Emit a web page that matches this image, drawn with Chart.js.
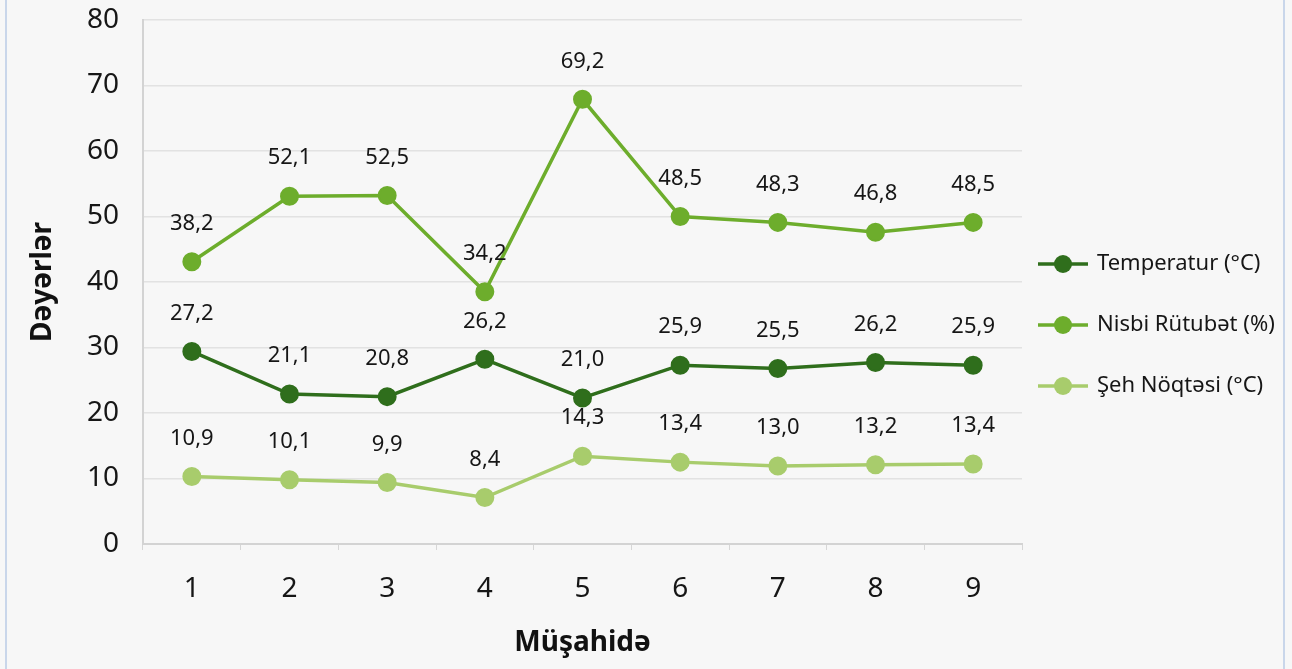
<!DOCTYPE html>
<html>
<head>
<meta charset="utf-8">
<script src="https://cdn.jsdelivr.net/npm/chart.js@4.4.1/dist/chart.umd.min.js"></script>
<style>
  html, body { margin: 0; padding: 0; background: #f7f7f7; }
  #wrap { position: relative; width: 1292px; height: 669px; }
  #frame { position: absolute; left: 5px; top: 0; width: 1280px; height: 669px;
           border-left: 2px solid #c9d6ea; border-right: 2px solid #c9d6ea; box-sizing: border-box; pointer-events: none; }
</style>
</head>
<body>
<div id="wrap">
  <canvas id="chart"></canvas>
  <div id="frame"></div>
</div>
<script>
// müşahidələr
const observations = ['1', '2', '3', '4', '5', '6', '7', '8', '9'];

// nöqtələrin şəkildəki mövqeləri
const temperatureValues = [29.4, 22.9, 22.5, 28.2, 22.3, 27.3, 26.8, 27.7, 27.3];
const humidityValues = [43.1, 53.1, 53.2, 38.5, 67.9, 50.0, 49.1, 47.6, 49.1];
const dewPointValues = [10.3, 9.8, 9.4, 7.1, 13.4, 12.5, 11.9, 12.1, 12.2];

// nöqtələrin üstündəki yazılar
const temperatureLabels = ['27,2', '21,1', '20,8', '26,2', '21,0', '25,9', '25,5', '26,2', '25,9'];
const humidityLabels = ['38,2', '52,1', '52,5', '34,2', '69,2', '48,5', '48,3', '46,8', '48,5'];
const dewPointLabels = ['10,9', '10,1', '9,9', '8,4', '14,3', '13,4', '13,0', '13,2', '13,4'];

const seriesNames = ['Temperatur (°C)', 'Nisbi Rütubət (%)', 'Şeh Nöqtəsi (°C)'];
const seriesColors = ['#2f6e1c', '#6dad2c', '#a8cc6c'];

const Y_MIN = 0;
const Y_MAX = 80;
const Y_STEP = 10;

const FONT = '"Noto Sans", "Open Sans", sans-serif';
const TEXT = '#161616';

function makeDataset(i, values, texts) {
    return {
        label: seriesNames[i],
        data: values,
        valueTexts: texts,
        borderColor: seriesColors[i],
        backgroundColor: seriesColors[i],
        pointBackgroundColor: seriesColors[i],
        pointBorderColor: seriesColors[i],
        borderWidth: 3.5,
        pointRadius: 8.5,
        pointBorderWidth: 2,
        tension: 0
    };
}

// yazılar nöqtələrin üstündə
const valueLabelPlugin = {
    id: 'valueLabels',
    afterDatasetsDraw(chart) {
        const ctx = chart.ctx;
        ctx.save();
        ctx.font = '22px ' + FONT;
        ctx.fillStyle = TEXT;
        ctx.textAlign = 'center';
        ctx.textBaseline = 'middle';
        chart.data.datasets.forEach((ds, i) => {
            const meta = chart.getDatasetMeta(i);
            meta.data.forEach((pt, j) => {
                ctx.fillText(ds.valueTexts[j], pt.x, pt.y - 38);
            });
        });
        ctx.restore();
    }
};

// sağdakı legend: xətt + dairə
const sideLegendPlugin = {
    id: 'sideLegend',
    afterDraw(chart) {
        const ctx = chart.ctx;
        const x0 = chart.chartArea.right + 16;
        ctx.save();
        chart.data.datasets.forEach((ds, i) => {
            const y = 264 + i * 61;
            ctx.strokeStyle = ds.borderColor;
            ctx.fillStyle = ds.borderColor;
            ctx.lineWidth = 3.5;
            ctx.beginPath();
            ctx.moveTo(x0, y);
            ctx.lineTo(x0 + 50, y);
            ctx.stroke();
            ctx.beginPath();
            ctx.arc(x0 + 25, y, 9, 0, Math.PI * 2);
            ctx.fill();
            ctx.fillStyle = TEXT;
            ctx.font = '22px ' + FONT;
            ctx.textAlign = 'left';
            ctx.textBaseline = 'middle';
            ctx.fillText(ds.label, x0 + 59, y);
        });
        ctx.restore();
    }
};

const ctx = document.getElementById('chart').getContext('2d');
const chart = new Chart(ctx, {
    type: 'line',
    data: {
        labels: observations,
        datasets: [
            makeDataset(0, temperatureValues, temperatureLabels),
            makeDataset(1, humidityValues, humidityLabels),
            makeDataset(2, dewPointValues, dewPointLabels)
        ]
    },
    plugins: [valueLabelPlugin, sideLegendPlugin],
    options: {
        animation: false,
        responsive: true,
        maintainAspectRatio: false,
        layout: {
            padding: { top: 20, left: 0, right: 270, bottom: 0 }
        },
        plugins: {
            legend: { display: false },
            tooltip: { enabled: false }
        },
        scales: {
            x: {
                offset: true,
                grid: {
                    display: true,
                    drawOnChartArea: false,
                    offset: true,
                    tickLength: 6,
                    color: '#d6d6d6'
                },
                border: { display: true, color: '#d3d3d3', width: 2 },
                ticks: {
                    color: TEXT,
                    padding: 22,
                    font: { family: FONT, size: 28 }
                },
                title: {
                    display: true,
                    text: 'Müşahidə',
                    color: '#111111',
                    padding: { top: 15, bottom: 9 },
                    font: { family: FONT, size: 28, weight: 'bold' }
                },
                afterFit(scale) { scale.height = 125; }
            },
            y: {
                min: Y_MIN,
                max: Y_MAX,
                ticks: {
                    stepSize: Y_STEP,
                    color: TEXT,
                    padding: 24,
                    font: { family: FONT, size: 28 }
                },
                grid: {
                    color: '#e2e2e2',
                    lineWidth: 1.5,
                    drawTicks: false
                },
                border: { display: true, color: '#d3d3d3', width: 2 },
                title: {
                    display: true,
                    text: 'Dəyərlər',
                    color: '#111111',
                    padding: { top: 26, bottom: 0 },
                    font: { family: FONT, size: 28, weight: 'bold' }
                },
                afterFit(scale) {
                    scale.width = 143;
                    scale.paddingTop = 0;
                }
            }
        }
    }
});
</script>
</body>
</html>
